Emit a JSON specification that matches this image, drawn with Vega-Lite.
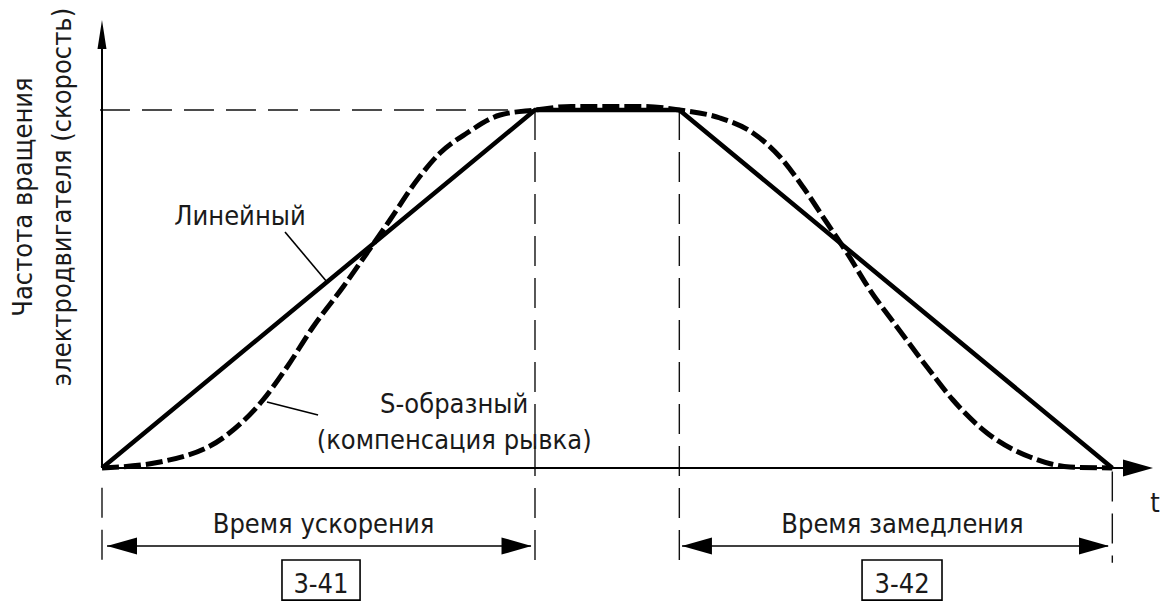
{
  "$schema": "https://vega.github.io/schema/vega-lite/v6.json",
  "width": 1161,
  "height": 604,
  "autosize": {"type": "none"},
  "padding": 0,
  "background": "white",
  "config": {"view": {"stroke": null}},
  "datasets": {
    "linear": [
      {"t": 0, "v": 0}, {"t": 30, "v": 100}, {"t": 40, "v": 100}, {"t": 70, "v": 0}
    ],
    "scurve": [
      {"t": 0, "v": 0}, {"t": 4.02, "v": 1.68}, {"t": 8.66, "v": 9.22}, {"t": 11.15, "v": 18.99},
      {"t": 12.82, "v": 28.21}, {"t": 14.62, "v": 39.39}, {"t": 16.7, "v": 50.56}, {"t": 18.36, "v": 60.06},
      {"t": 19.95, "v": 69.27}, {"t": 21.83, "v": 80.45}, {"t": 23.42, "v": 87.99}, {"t": 25.29, "v": 93.58},
      {"t": 27.58, "v": 98.6}, {"t": 30, "v": 100}, {"t": 32.5, "v": 101}, {"t": 37.5, "v": 101},
      {"t": 40, "v": 100}, {"t": 42.82, "v": 97.77}, {"t": 45.1, "v": 93.58}, {"t": 46.98, "v": 86.87},
      {"t": 48.57, "v": 78.49}, {"t": 50.23, "v": 68.44}, {"t": 51.62, "v": 60.06}, {"t": 53.21, "v": 49.72},
      {"t": 55.08, "v": 39.39}, {"t": 57.16, "v": 28.21}, {"t": 58.96, "v": 18.99}, {"t": 61.32, "v": 9.78},
      {"t": 64.3, "v": 3.07}, {"t": 67.07, "v": 0.28}, {"t": 70, "v": 0}
    ],
    "guides": [
      {"t": -0.14, "v": 100, "t2": 30, "v2": 100},
      {"t": 30, "v": 100, "t2": 30, "v2": -26.5},
      {"t": 40, "v": 100, "t2": 40, "v2": -26.5},
      {"t": 0, "v": -5.5, "t2": 0, "v2": -26.5},
      {"t": 70, "v": -1, "t2": 70, "v2": -26.5}
    ],
    "axes": [
      {"t": 0, "v": 0, "t2": 0, "v2": 117.5},
      {"t": 0, "v": 0, "t2": 70.9, "v2": 0}
    ],
    "thin": [
      {"t": 0.35, "v": -21.79, "t2": 29.72, "v2": -21.79},
      {"t": 40.19, "v": -21.79, "t2": 69.7, "v2": -21.79},
      {"t": 12.68, "v": 65.92, "t2": 15.59, "v2": 51.96},
      {"t": 11.43, "v": 18.44, "t2": 14.97, "v2": 14.8}
    ],
    "headsUp": [{"t": 0, "v": 121.1}],
    "headsRight": [{"t": 71.78, "v": 0}, {"t": 28.72, "v": -21.79}, {"t": 68.73, "v": -21.79}],
    "headsLeft": [{"t": 1.386, "v": -21.79}, {"t": 41.22, "v": -21.79}],
    "boxes": [
      {"t": 12.47, "t2": 17.88, "v": -25.7, "v2": -36.9, "label": "3-41", "tc": 15.17},
      {"t": 52.66, "t2": 58.2, "v": -25.7, "v2": -36.9, "label": "3-42", "tc": 55.43}
    ],
    "labels": [
      {"text": "Линейный", "t": 9.56, "v": 67.88},
      {"text": "S-образный", "t": 24.4, "v": 15.36},
      {"text": "(компенсация рывка)", "t": 24.4, "v": 5.31},
      {"text": "Время ускорения", "t": 15.35, "v": -18.16},
      {"text": "Время замедления", "t": 55.46, "v": -18.16},
      {"text": "t", "t": 72.96, "v": -12.29}
    ],
    "ylabel": [
      {"text": "Частота вращения", "t": -5.4, "v": 75.7},
      {"text": "электродвигателя (скорость)", "t": -2.7, "v": 75.7}
    ]
  },
  "layer": [
    {
      "data": {"name": "guides"},
      "mark": {"type": "rule", "color": "#111", "strokeWidth": 1.4, "strokeDash": [30, 12]},
      "encoding": {
        "x": {"field": "t", "type": "quantitative", "scale": {"domain": [-7.067, 73.373], "nice": false, "zero": false}, "axis": null},
        "y": {"field": "v", "type": "quantitative", "scale": {"domain": [-37.99, 130.73], "nice": false, "zero": false}, "axis": null},
        "x2": {"field": "t2"},
        "y2": {"field": "v2"}
      }
    },
    {
      "data": {"name": "linear"},
      "mark": {"type": "line", "color": "#000", "strokeWidth": 4.5, "strokeJoin": "miter"},
      "encoding": {
        "x": {"field": "t", "type": "quantitative"},
        "y": {"field": "v", "type": "quantitative"}
      }
    },
    {
      "data": {"name": "scurve"},
      "mark": {"type": "line", "color": "#000", "strokeWidth": 5, "strokeDash": [17, 5], "interpolate": "monotone"},
      "encoding": {
        "x": {"field": "t", "type": "quantitative"},
        "y": {"field": "v", "type": "quantitative"}
      }
    },
    {
      "data": {"name": "axes"},
      "mark": {"type": "rule", "color": "#000", "strokeWidth": 2},
      "encoding": {
        "x": {"field": "t", "type": "quantitative"},
        "y": {"field": "v", "type": "quantitative"},
        "x2": {"field": "t2"},
        "y2": {"field": "v2"}
      }
    },
    {
      "data": {"name": "thin"},
      "mark": {"type": "rule", "color": "#000", "strokeWidth": 1.6},
      "encoding": {
        "x": {"field": "t", "type": "quantitative"},
        "y": {"field": "v", "type": "quantitative"},
        "x2": {"field": "t2"},
        "y2": {"field": "v2"}
      }
    },
    {
      "data": {"name": "headsUp"},
      "mark": {"type": "point", "shape": "M0,-1L0.31,1L-0.31,1Z", "size": 841, "filled": true, "color": "#000", "opacity": 1, "strokeWidth": 0},
      "encoding": {
        "x": {"field": "t", "type": "quantitative"},
        "y": {"field": "v", "type": "quantitative"}
      }
    },
    {
      "data": {"name": "headsRight"},
      "mark": {"type": "point", "shape": "M1,0L-1,-0.57L-1,0.57Z", "size": 900, "filled": true, "color": "#000", "opacity": 1, "strokeWidth": 0},
      "encoding": {
        "x": {"field": "t", "type": "quantitative"},
        "y": {"field": "v", "type": "quantitative"}
      }
    },
    {
      "data": {"name": "headsLeft"},
      "mark": {"type": "point", "shape": "M-1,0L1,-0.57L1,0.57Z", "size": 900, "filled": true, "color": "#000", "opacity": 1, "strokeWidth": 0},
      "encoding": {
        "x": {"field": "t", "type": "quantitative"},
        "y": {"field": "v", "type": "quantitative"}
      }
    },
    {
      "data": {"name": "boxes"},
      "mark": {"type": "rect", "filled": false, "color": "#000", "strokeWidth": 1.6},
      "encoding": {
        "x": {"field": "t", "type": "quantitative"},
        "x2": {"field": "t2"},
        "y": {"field": "v", "type": "quantitative"},
        "y2": {"field": "v2"}
      }
    },
    {
      "data": {"name": "boxes"},
      "mark": {"type": "text", "font": "DejaVu Sans Condensed, sans-serif", "fontSize": 27, "color": "#1a1a1a", "align": "center", "baseline": "alphabetic"},
      "encoding": {
        "x": {"field": "tc", "type": "quantitative"},
        "y": {"datum": -34.9, "type": "quantitative"},
        "text": {"field": "label"}
      }
    },
    {
      "data": {"name": "labels"},
      "mark": {"type": "text", "font": "DejaVu Sans Condensed, sans-serif", "fontSize": 27, "color": "#1a1a1a", "align": "center", "baseline": "alphabetic"},
      "encoding": {
        "x": {"field": "t", "type": "quantitative"},
        "y": {"field": "v", "type": "quantitative"},
        "text": {"field": "text"}
      }
    },
    {
      "data": {"name": "ylabel"},
      "mark": {"type": "text", "font": "DejaVu Sans Condensed, sans-serif", "fontSize": 27, "color": "#1a1a1a", "align": "center", "baseline": "middle", "angle": 270},
      "encoding": {
        "x": {"field": "t", "type": "quantitative"},
        "y": {"field": "v", "type": "quantitative"},
        "text": {"field": "text"}
      }
    }
  ]
}
